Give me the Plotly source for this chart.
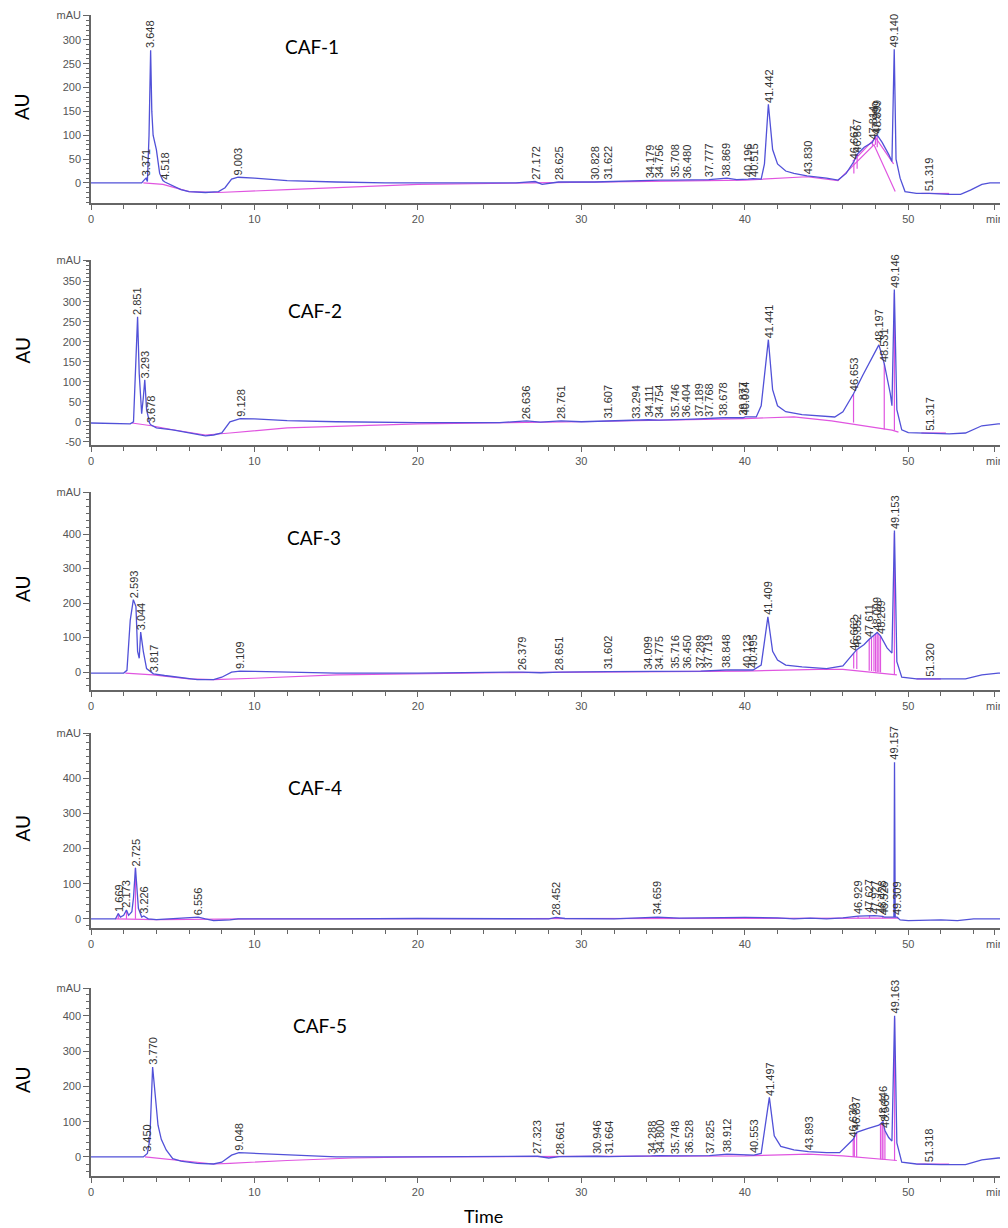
import numpy as np
import plotly.graph_objects as go

# page body has an 8 px margin, so the figure is 8 px smaller than the window
OFF = 8
W, H = 1000, 1220

names = ["CAF-1", "CAF-2", "CAF-3", "CAF-4", "CAF-5"]

# ---------------- chromatogram traces (time min, mAU) ----------------
trace1 = [(0, 0), (3.1, 0), (3.3, 8), (3.37, 10), (3.45, 3), (3.55, 100), (3.648, 278), (3.72, 150),
          (3.8, 100), (4.0, 70), (4.2, 20), (4.4, 5), (4.52, 2), (5.0, -5), (5.5, -14), (6.0, -18),
          (7.0, -20), (7.8, -18), (8.2, -10), (8.6, 8), (9.0, 12), (10, 10), (12, 5), (15, 2), (18, 0),
          (26, 0), (27.17, 3), (27.6, -3), (28.6, 2), (30.8, 2), (31.6, 3), (34.2, 5), (34.8, 6),
          (35.7, 6), (36.5, 6), (37.8, 7), (38.9, 10), (39.5, 7), (40.2, 8), (40.5, 9), (41.0, 8),
          (41.2, 40), (41.44, 165), (41.7, 70), (42.0, 40), (42.5, 25), (43.0, 20), (43.8, 15),
          (45.0, 10), (45.7, 6), (46.2, 20), (46.67, 45), (46.87, 60), (47.3, 75), (47.8, 85),
          (48.0, 98), (48.1, 100), (48.4, 85), (48.8, 60), (49.0, 45), (49.14, 280), (49.25, 50),
          (49.5, 10), (49.8, -18), (50.5, -22), (51.3, -22), (52.5, -24), (53.2, -24), (53.8, -15),
          (54.5, -3), (55, 0), (56.2, 0)]
trace2 = [(0, -3), (2.4, -5), (2.6, 0), (2.75, 150), (2.85, 262), (2.95, 120), (3.1, 20), (3.2, 60),
          (3.29, 105), (3.4, 30), (3.6, -5), (3.68, -8), (4.0, -15), (5, -20), (6, -27), (7, -35),
          (7.5, -33), (8.0, -28), (8.5, 0), (9.13, 8), (10, 7), (12, 3), (15, 0), (20, -2), (25, -2),
          (26.64, 2), (27.5, -1), (28.76, 2), (30, 0), (31.61, 2), (33.29, 3), (34.11, 5), (34.75, 4),
          (35.75, 6), (36.4, 6), (37.19, 7), (37.77, 8), (38.68, 10), (39.88, 10), (40.03, 12),
          (40.7, 12), (41.0, 40), (41.44, 205), (41.7, 80), (42.0, 40), (42.5, 25), (43.5, 18),
          (44.5, 15), (45.5, 12), (46.0, 25), (46.65, 70), (47.2, 115), (47.8, 160), (48.2, 192),
          (48.53, 145), (48.9, 70), (49.0, 40), (49.146, 330), (49.3, 30), (49.6, -20), (50, -27),
          (51.3, -28), (52.5, -30), (53.5, -28), (54.5, -10), (55.5, -5), (56.2, -5)]
trace3 = [(0, -3), (2.0, -3), (2.2, 5), (2.4, 150), (2.59, 210), (2.75, 190), (2.85, 60), (2.95, 40),
          (3.04, 116), (3.2, 60), (3.4, 10), (3.82, -5), (4.5, -10), (5.5, -15), (6.5, -22), (7.5, -22),
          (8.0, -15), (8.6, 0), (9.11, 3), (10, 2), (12, 0), (15, -3), (20, -3), (26.38, 0), (27.5, -2),
          (28.65, 0), (31.6, 1), (34.1, 2), (35.7, 3), (37.3, 3), (38.85, 6), (40.12, 5), (40.5, 6),
          (41.0, 20), (41.41, 160), (41.7, 60), (42.0, 35), (42.5, 20), (43.5, 15), (45.0, 10),
          (46.0, 18), (46.66, 55), (46.85, 65), (47.3, 80), (47.61, 95), (48.1, 115), (48.3, 105),
          (48.7, 70), (49.0, 55), (49.153, 410), (49.3, 30), (49.6, -15), (50.5, -20), (52, -20),
          (53.5, -20), (54.5, -8), (55.5, -3), (56.2, -3)]
trace4 = [(0, 0), (1.5, 0), (1.67, 15), (1.8, 5), (2.0, 10), (2.17, 25), (2.3, 10), (2.5, 20), (2.6, 60),
          (2.72, 145), (2.9, 30), (3.1, 5), (3.23, 8), (3.5, 0), (4.0, -2), (5.0, 0), (6.0, 2), (6.56, 5),
          (7.0, 0), (7.5, -5), (8.5, -3), (9.0, 0), (15, 0), (20, 1), (28.0, 0), (28.45, 4), (29, 1),
          (32, 0), (34.66, 5), (36, 2), (40, 4), (42, 3), (43, 0), (44, 2), (45, 0), (46.0, 3),
          (46.93, 8), (47.63, 10), (47.93, 9), (48.43, 7), (48.53, 5), (49.12, 5), (49.157, 445),
          (49.2, 5), (49.31, 5), (49.5, -3), (50, -5), (52, -3), (53, -5), (54, 0), (56.2, 0)]
trace5 = [(0, 0), (3.2, 0), (3.45, 10), (3.6, 50), (3.77, 255), (3.9, 180), (4.1, 90), (4.3, 50),
          (4.6, 20), (5.0, -5), (5.5, -12), (6.5, -18), (7.5, -20), (8.0, -15), (8.6, 5), (9.05, 12),
          (10, 10), (12, 5), (15, 0), (20, 0), (26, 0), (27.32, 2), (28.0, -3), (28.66, 1), (30.95, 2),
          (31.66, 1), (34.29, 3), (34.8, 4), (35.75, 3), (36.53, 4), (37.83, 4), (38.91, 8), (40.55, 5),
          (41.0, 10), (41.5, 169), (41.8, 60), (42.2, 30), (43, 20), (43.89, 15), (45, 12), (45.8, 12),
          (46.63, 50), (46.84, 70), (47.5, 80), (48.2, 90), (48.45, 100), (48.57, 75), (48.8, 55),
          (49.0, 45), (49.163, 400), (49.3, 40), (49.6, -15), (50.5, -20), (52, -22), (53.5, -22),
          (54.5, -8), (55.5, -3), (56.2, -3)]

# ---------------- integration baselines (magenta) ----------------
base1 = [(3.2, 0), (4.4, -3), (6, -18), (7.8, -20), (12, -14), (20, -3), (27, 0), (40, 6), (43.8, 13),
         (45.7, 5), (47.9, 80), (49.2, -18), None, (46.6, 45), (48.0, 95), (49.1, 40), None,
         (50.8, -22), (52.5, -22)]
base2 = [(2.5, -3), (3.7, -10), (5, -20), (7, -33), (8.5, -28), (12, -15), (20, -5), (30, 0), (40, 8),
         (43, 12), (45.3, 2), (49.0, -21), (49.4, -26), None, (50.8, -28), (52.3, -28)]
base3 = [(2.1, -3), (3.8, -8), (6, -20), (7.5, -22), (10, -18), (15, -8), (25, -2), (40, 3), (44.5, 8),
         (46.0, 8), (49.3, -8), None, (50.5, -20), (52.0, -20)]
base4 = [(1.5, 0), (4, -2), (10, 0), (30, 0), (45, 2), (49.4, 2)]
base5 = [(3.3, 0), (5, -8), (7.5, -20), (8.5, -18), (12, -10), (16, -3), (20, 0), (40, 3), (43.9, 8),
         (46, 3), (49.3, -10), None, (50.5, -20), (52.5, -20)]

# peak drop lines (time, bottom mAU)
drops1 = [(46.67, 20), (46.87, 30), (47.81, 78), (47.99, 80), (48.1, 75)]
drops2 = [(46.65, -2), (48.53, -19), (49.15, -22)]
drops3 = [(46.66, 10), (46.85, 9), (47.61, 4), (47.75, 3), (47.9, 2), (48.0, 1), (48.1, 0), (48.2, 0),
          (48.3, -1), (49.15, -6)]
drops4 = [(1.67, 0), (2.17, 0), (2.72, 0), (46.93, 2), (47.63, 2), (48.43, 2)]
drops5 = [(46.63, 0), (46.7, 0), (46.84, -1), (48.3, -7), (48.4, -7), (48.45, -7), (48.57, -8), (49.16, -10)]

# peak retention-time labels
peaks1 = ["3.371", "3.648", "4.518", "9.003", "27.172", "28.625", "30.828", "31.622", "34.179", "34.756",
          "35.708", "36.480", "37.777", "38.869", "40.196", "40.515", "41.442", "43.830", "46.667", "46.867",
          "47.814", "47.990", "48.099", "49.140", "51.319"]
peaks2 = ["2.851", "3.293", "3.678", "9.128", "26.636", "28.761", "31.607", "33.294", "34.111", "34.754",
          "35.746", "36.404", "37.189", "37.768", "38.678", "39.877", "40.034", "41.441", "46.653", "48.197",
          "48.531", "49.146", "51.317"]
peaks3 = ["2.593", "3.044", "3.817", "9.109", "26.379", "28.651", "31.602", "34.099", "34.775", "35.716",
          "36.450", "37.289", "37.719", "38.848", "40.123", "40.495", "41.409", "46.662", "46.852", "47.611",
          "48.099", "48.289", "49.153", "51.320"]
peaks4 = ["1.669", "2.173", "2.725", "3.226", "6.556", "28.452", "34.659", "46.929", "47.627", "47.927",
          "48.428", "48.526", "49.157", "49.309"]
peaks5 = ["3.450", "3.770", "9.048", "27.323", "28.661", "30.946", "31.664", "34.288", "34.800", "35.748",
          "36.528", "37.825", "38.912", "40.553", "41.497", "43.893", "46.630", "46.837", "48.446", "48.565",
          "49.163", "51.318"]

x_ticks = [0, 10, 20, 30, 40, 50]

traces = [trace1, trace2, trace3, trace4, trace5]
bases = [base1, base2, base3, base4, base5]
drops = [drops1, drops2, drops3, drops4, drops5]
peaks = [peaks1, peaks2, peaks3, peaks4, peaks5]

# ---------------- layout settings (window pixels) ----------------
panel_px = [(15, 203), (260, 445), (492, 690), (733, 928), (988, 1176)]
y_ranges = [(-42, 352), (-58, 404), (-52, 522), (-26, 528), (-54, 479)]
y_major = [(0, 300, 50), (-50, 350, 50), (0, 400, 100), (0, 400, 100), (0, 400, 100)]
y_minor = [10, 10, 20, 20, 20]
title_px = [(312, 46), (315, 310), (314, 538), (315, 787), (320, 1025)]
X_MAX = 56.1
X0 = 91


def px(x):
    return (x - OFF) / W


def py(y):
    return 1 - (y - OFF) / H


BLUE = "#5151d8"
MAG = "#e055e0"
AX = "#666666"
TXT = "#555555"
FONT = "Arial, Liberation Sans, sans-serif"
TFONT = "Lato, Open Sans, sans-serif"

fig = go.Figure()
layout = dict(width=W, height=H, margin=dict(l=0, r=0, t=0, b=0), template="none",
              paper_bgcolor="white", plot_bgcolor="white", showlegend=False)
annotations = []

for i in range(5):
    n = i + 1
    sfx = "" if n == 1 else str(n)
    xa, ya = "x" + sfx, "y" + sfx

    tt = np.array([p[0] for p in traces[i]], dtype=float)
    aa = np.array([p[1] for p in traces[i]], dtype=float)

    bx = [None if p is None else p[0] for p in bases[i]]
    by = [None if p is None else p[1] for p in bases[i]]
    fig.add_trace(go.Scatter(x=bx, y=by, mode="lines", line=dict(color=MAG, width=1.2),
                             xaxis=xa, yaxis=ya, hoverinfo="skip"))

    dx, dy = [], []
    for (t, b) in drops[i]:
        dx += [t, t, None]
        dy += [b, float(np.interp(t, tt, aa)), None]
    fig.add_trace(go.Scatter(x=dx, y=dy, mode="lines", line=dict(color=MAG, width=1.2),
                             xaxis=xa, yaxis=ya, hoverinfo="skip"))

    fig.add_trace(go.Scatter(x=tt, y=aa, mode="lines", line=dict(color=BLUE, width=1.3),
                             xaxis=xa, yaxis=ya, hoverinfo="skip"))

    for lab in peaks[i]:
        t = float(lab)
        v = float(np.interp(t, tt, aa))
        annotations.append(dict(x=t, y=v, xref=xa, yref=ya, text=lab, showarrow=False,
                                textangle=-90, xanchor="center", yanchor="bottom", yshift=0,
                                font=dict(size=11, color="#333333", family=FONT)))

    top, bot = panel_px[i]
    lo, hi = y_ranges[i]
    a, b, s = y_major[i]
    yt = list(range(a, b + 1, s))
    layout["xaxis" + sfx] = dict(
        domain=[px(X0), 1.0], range=[0, X_MAX], anchor=ya, showline=True, linecolor=AX, linewidth=1.5,
        ticks="outside", ticklen=5, tickcolor=AX, tickwidth=1,
        tickmode="array", tickvals=x_ticks + [55.3], ticktext=[str(v) for v in x_ticks] + ["min"],
        minor=dict(tickmode="array", tickvals=list(range(2, 56, 2)), ticks="outside", ticklen=4,
                   tickcolor=AX),
        showgrid=False, zeroline=False, automargin=False,
        tickfont=dict(size=11, color=TXT, family=FONT))
    layout["yaxis" + sfx] = dict(
        domain=[py(bot), py(top)], range=[lo, hi], anchor=xa, showline=True, linecolor=AX,
        linewidth=1.5, ticks="outside", ticklen=6, tickcolor=AX, tickwidth=1,
        tickmode="array", tickvals=yt + [hi - 0.5], ticktext=[str(v) for v in yt] + ["mAU"],
        minor=dict(tickmode="array", tickvals=list(np.arange(lo - lo % y_minor[i], hi, y_minor[i])),
                   ticks="outside", ticklen=3, tickcolor=AX),
        showgrid=False, zeroline=False, automargin=False,
        tickfont=dict(size=11, color=TXT, family=FONT))

    cx, cy = title_px[i]
    annotations.append(dict(x=px(cx), y=py(cy), xref="paper", yref="paper", text=names[i],
                            showarrow=False, xanchor="center", yanchor="middle",
                            font=dict(size=19, color="black", family=TFONT)))
    annotations.append(dict(x=px(22), y=py((top + bot) / 2 - 2), xref="paper", yref="paper",
                            text="AU", showarrow=False, textangle=-90, xanchor="center",
                            yanchor="middle", font=dict(size=19, color="black", family=TFONT)))

annotations.append(dict(x=px(483), y=py(1216), xref="paper", yref="paper", text="Time",
                        showarrow=False, xanchor="center", yanchor="middle",
                        font=dict(size=18, color="black", family=TFONT)))

layout["annotations"] = annotations
fig.update_layout(**layout)
fig.write_html("out.html")
